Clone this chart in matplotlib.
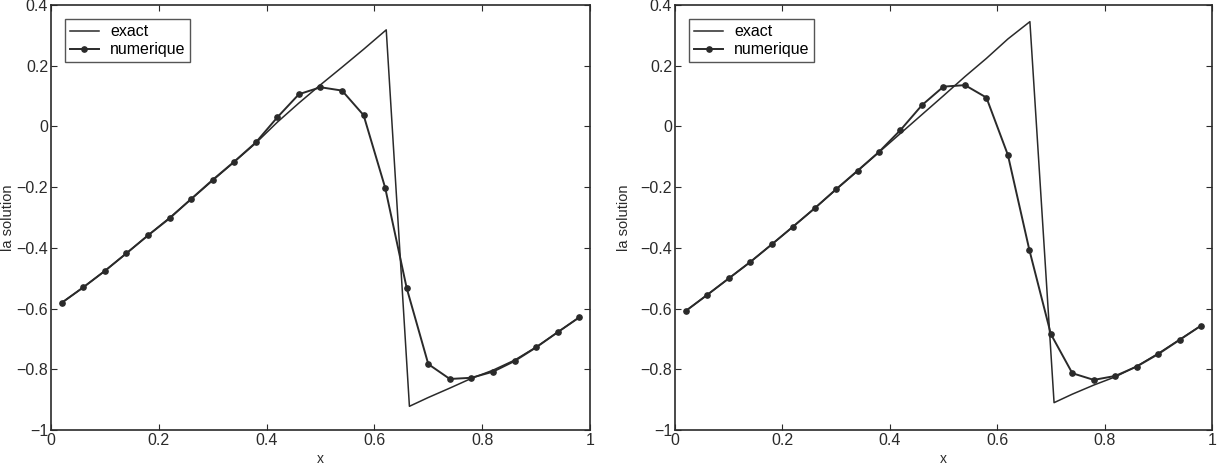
import numpy as np
import matplotlib
matplotlib.use('Agg')
import matplotlib.pyplot as plt
from matplotlib.ticker import FuncFormatter

plt.rcParams['font.family'] = ['Liberation Sans', 'DejaVu Sans']

# grid of the numerical scheme (same for both panels)
x_num = [0.02, 0.06, 0.10, 0.14, 0.18, 0.22, 0.26, 0.30, 0.34, 0.38, 0.42, 0.46, 0.50,
         0.54, 0.58, 0.62, 0.66, 0.70, 0.74, 0.78, 0.82, 0.86, 0.90, 0.94, 0.98]

# left panel
num_left = [-0.581, -0.530, -0.476, -0.418, -0.359, -0.303, -0.239, -0.176, -0.116, -0.053,
            0.030, 0.106, 0.129, 0.118, 0.037, -0.202, -0.533, -0.783, -0.832, -0.828,
            -0.808, -0.773, -0.728, -0.678, -0.629]
x_ex_left = [0.02, 0.06, 0.10, 0.14, 0.18, 0.22, 0.26, 0.30, 0.34, 0.38, 0.42, 0.46, 0.50,
             0.54, 0.58, 0.622, 0.665, 0.70, 0.74, 0.78, 0.82, 0.86, 0.90, 0.94, 0.98]
ex_left = [-0.581, -0.530, -0.476, -0.418, -0.359, -0.301, -0.240, -0.178, -0.117, -0.055,
           0.014, 0.077, 0.137, 0.195, 0.254, 0.318, -0.922, -0.893, -0.862, -0.830,
           -0.803, -0.770, -0.727, -0.678, -0.629]

# right panel
num_right = [-0.608, -0.555, -0.501, -0.447, -0.389, -0.330, -0.270, -0.207, -0.146, -0.084,
             -0.012, 0.070, 0.131, 0.136, 0.095, -0.094, -0.407, -0.684, -0.813, -0.835,
             -0.822, -0.791, -0.750, -0.703, -0.656]
x_ex_right = [0.02, 0.06, 0.10, 0.14, 0.18, 0.22, 0.26, 0.30, 0.34, 0.38, 0.42, 0.46, 0.50,
              0.54, 0.58, 0.62, 0.661, 0.706, 0.74, 0.78, 0.82, 0.86, 0.90, 0.94, 0.98]
ex_right = [-0.608, -0.555, -0.501, -0.447, -0.389, -0.330, -0.270, -0.208, -0.147, -0.085,
            -0.023, 0.039, 0.101, 0.164, 0.224, 0.288, 0.345, -0.910, -0.882, -0.852,
            -0.825, -0.790, -0.748, -0.702, -0.656]

xticks = [0, 0.2, 0.4, 0.6, 0.8, 1]
yticks = [-1, -0.8, -0.6, -0.4, -0.2, 0, 0.2, 0.4]

ink = '#2a2a2a'


def fmt(v, p):
    return ('%g' % v).replace('-', '\u2212')


def panel(ax, xe, ye, yn, ylab_x):
    ax.plot(xe, ye, color=ink, lw=1.1, label='exact')
    ax.plot(x_num, yn, color=ink, lw=1.4, marker='o', ms=3.8, label='numerique')
    ax.set_xlim(0, 1)
    ax.set_ylim(-1, 0.4)
    ax.set_xticks(xticks)
    ax.set_yticks(yticks)
    ax.xaxis.set_major_formatter(FuncFormatter(fmt))
    ax.yaxis.set_major_formatter(FuncFormatter(fmt))
    ax.tick_params(direction='in', length=4, width=0.8, top=True, right=True,
                   labelsize=11.5, colors=ink, pad=2)
    for s in ax.spines.values():
        s.set_linewidth(1.2)
        s.set_color(ink)
    ax.set_xlabel('x', fontsize=10, color=ink, labelpad=3)
    ax.set_ylabel('la solution', fontsize=10.5, color=ink)
    ax.yaxis.set_label_coords(ylab_x, 0.5)
    leg = ax.legend(loc='upper left', fontsize=11.5, frameon=True, fancybox=False,
                    edgecolor=ink, handlelength=1.8, borderpad=0.3,
                    labelspacing=0.2, handletextpad=0.7, borderaxespad=0.9)
    leg.get_frame().set_linewidth(1.0)


fig = plt.figure(figsize=(12.19, 4.65), dpi=100)
ax1 = fig.add_axes([0.0418, 0.0753, 0.4422, 0.914])
ax2 = fig.add_axes([0.5537, 0.0753, 0.4405, 0.914])

panel(ax1, x_ex_left, ex_left, num_left, -0.066)
panel(ax2, x_ex_right, ex_right, num_right, -0.082)

fig.savefig('out.png', dpi=100)
